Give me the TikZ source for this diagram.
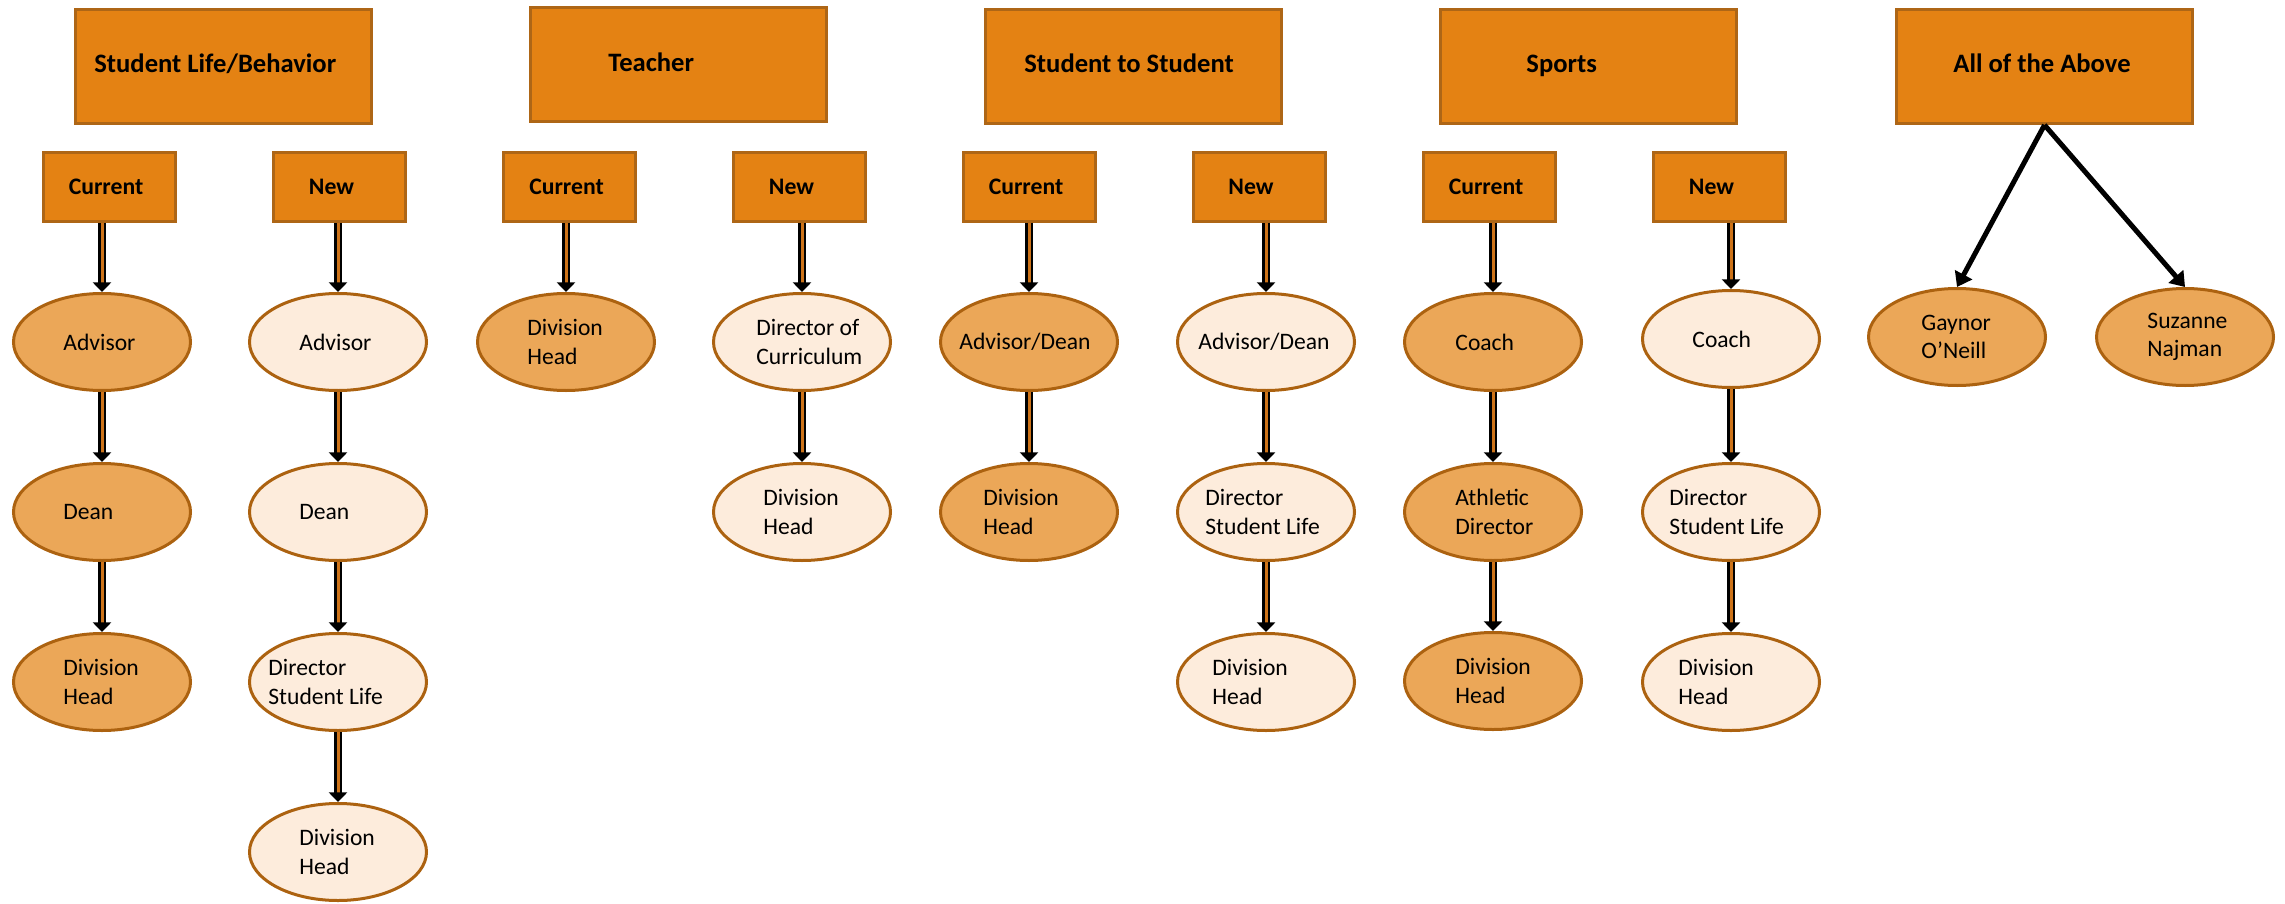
\documentclass[tikz,border=0pt]{standalone}
\usepackage{fontspec}
\setmainfont{Carlito}
\usetikzlibrary{arrows.meta,shapes.geometric}
\definecolor{boxfill}{RGB}{228,130,19}
\definecolor{boxline}{RGB}{174,102,22}
\definecolor{darkfill}{RGB}{235,167,88}
\definecolor{lightfill}{RGB}{253,236,220}
\definecolor{ovalline}{RGB}{172,98,16}
\definecolor{shaftcol}{RGB}{205,115,25}
\tikzset{
 topbox/.style={draw=boxline, fill=boxfill, line width=1.5pt, minimum width=148pt, minimum height=57pt, inner sep=0pt},
 subbox/.style={draw=boxline, fill=boxfill, line width=1.5pt, minimum width=66pt, minimum height=34.5pt, inner sep=0pt, font=\bfseries\fontsize{11.85}{14}\selectfont},
 titletext/.style={anchor=base west, inner sep=0pt, font=\bfseries\fontsize{13.3}{16}\selectfont},
 ovalbase/.style={ellipse, draw=ovalline, line width=1.5pt, minimum width=88.5pt, minimum height=48.5pt, inner sep=0pt},
 darkoval/.style={ovalbase, fill=darkfill},
 lightoval/.style={ovalbase, fill=lightfill},
 ovaltext/.style={anchor=west, inner sep=0pt, align=left, font=\fontsize{11.8}{14.3}\selectfont},
 dblarrow/.style={draw=black, double=shaftcol, double distance=1.5pt, line width=1.25pt, -{Triangle[width=9pt,length=4.8pt]}},
 bigarrow/.style={draw=black, line width=2.5pt, -{Triangle[width=9.5pt,length=7pt]}},
}
\newcommand\myoval[6]{\node[#4] (#1) at (#2,#3) {}; \node[ovaltext] (#1t) at ({#2-#5},#3) {#6};}
\begin{document}
\begin{tikzpicture}[x=0.5pt,y=-0.5pt]
\useasboundingbox (0,0) rectangle (2285,904);
% top boxes
\node[topbox] (tslb) at (223.5,66.5) {};
\node[titletext] (tslbt) at (94,73) {Student Life/Behavior};
\node[topbox] (tteach) at (678.5,65) {};
\node[titletext] (tteacht) at (608,72) {Teacher};
\node[topbox] (tsts) at (1133.5,66.5) {};
\node[titletext] (tstst) at (1024,73) {Student to Student};
\node[topbox] (tsport) at (1588.5,67) {};
\node[titletext] (tsportt) at (1526,73) {Sports};
\node[topbox] (tall) at (2044.5,66.5) {};
\node[titletext] (tallt) at (1953,73) {All of the Above};
% sub boxes
\node[subbox] (slbC) at (109,186.5) {\hspace*{-3pt}Current};
\node[subbox] (slbN) at (339.5,186.5) {\hspace*{-8pt}New};
\node[subbox] (teaC) at (569.5,186.5) {\hspace*{-3pt}Current};
\node[subbox] (teaN) at (799.5,186.5) {\hspace*{-8pt}New};
\node[subbox] (stsC) at (1029,186.5) {\hspace*{-3pt}Current};
\node[subbox] (stsN) at (1259,186.5) {\hspace*{-8pt}New};
\node[subbox] (spoC) at (1489,186.5) {\hspace*{-3pt}Current};
\node[subbox] (spoN) at (1719.5,186.5) {\hspace*{-8pt}New};
% ellipses
\myoval{slbC1}{102}{342}{darkoval}{39}{Advisor}
\myoval{slbC2}{102}{512}{darkoval}{39}{Dean}
\myoval{slbC3}{102}{682}{darkoval}{39}{Division\\Head}
\myoval{slbN1}{338}{342}{lightoval}{39}{Advisor}
\myoval{slbN2}{338}{512}{lightoval}{39}{Dean}
\myoval{slbN3}{338}{682}{lightoval}{70}{Director\\Student Life}
\myoval{slbN4}{338}{852}{lightoval}{39}{Division\\Head}
\myoval{teaC1}{566}{342}{darkoval}{39}{Division\\Head}
\myoval{teaN1}{802}{342}{lightoval}{46}{Director of\\Curriculum}
\myoval{teaN2}{802}{512}{lightoval}{39}{Division\\Head}
\myoval{stsC1}{1029}{342}{darkoval}{70}{Advisor/Dean}
\myoval{stsC2}{1029}{512}{darkoval}{46}{Division\\Head}
\myoval{stsN1}{1266}{342}{lightoval}{68}{Advisor/Dean}
\myoval{stsN2}{1266}{512}{lightoval}{61}{Director\\Student Life}
\myoval{stsN3}{1266}{682}{lightoval}{54}{Division\\Head}
\myoval{spoC1}{1493}{342}{darkoval}{38}{Coach}
\myoval{spoC2}{1493}{512}{darkoval}{38}{Athletic\\Director}
\myoval{spoC3}{1493}{681}{darkoval}{38}{Division\\Head}
\myoval{spoN1}{1731}{339}{lightoval}{39}{Coach}
\myoval{spoN2}{1731}{512}{lightoval}{62}{Director\\Student Life}
\myoval{spoN3}{1731}{682}{lightoval}{53}{Division\\Head}
\myoval{gay}{1957}{337}{darkoval}{36}{Gaynor\\O’Neill}
\myoval{suz}{2185}{337}{darkoval}{38}{Suzanne\\Najman}
% arrows
\draw[dblarrow] (slbC.south -| slbC1.north) -- (slbC1.north);
\draw[dblarrow] (slbC1.south) -- (slbC2.north);
\draw[dblarrow] (slbC2.south) -- (slbC3.north);
\draw[dblarrow] (slbN.south -| slbN1.north) -- (slbN1.north);
\draw[dblarrow] (slbN1.south) -- (slbN2.north);
\draw[dblarrow] (slbN2.south) -- (slbN3.north);
\draw[dblarrow] (slbN3.south) -- (slbN4.north);
\draw[dblarrow] (teaC.south -| teaC1.north) -- (teaC1.north);
\draw[dblarrow] (teaN.south -| teaN1.north) -- (teaN1.north);
\draw[dblarrow] (teaN1.south) -- (teaN2.north);
\draw[dblarrow] (stsC.south -| stsC1.north) -- (stsC1.north);
\draw[dblarrow] (stsC1.south) -- (stsC2.north);
\draw[dblarrow] (stsN.south -| stsN1.north) -- (stsN1.north);
\draw[dblarrow] (stsN1.south) -- (stsN2.north);
\draw[dblarrow] (stsN2.south) -- (stsN3.north);
\draw[dblarrow] (spoC.south -| spoC1.north) -- (spoC1.north);
\draw[dblarrow] (spoC1.south) -- (spoC2.north);
\draw[dblarrow] (spoC2.south) -- (spoC3.north);
\draw[dblarrow] (spoN.south -| spoN1.north) -- (spoN1.north);
\draw[dblarrow] (spoN1.south) -- (spoN2.north);
\draw[dblarrow] (spoN2.south) -- (spoN3.north);
\draw[bigarrow] (tall.south) -- (gay.north);
\draw[bigarrow] (tall.south) -- (suz.north);
\end{tikzpicture}
\end{document}
